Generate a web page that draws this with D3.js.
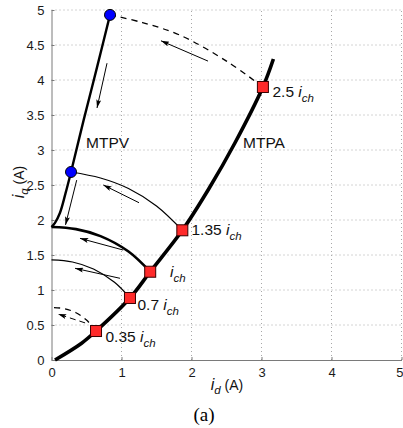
<!DOCTYPE html>
<html><head><meta charset="utf-8">
<script src="https://cdnjs.cloudflare.com/ajax/libs/d3/7.8.5/d3.min.js"></script>
<style>
html,body{margin:0;padding:0;background:#fff;}
svg{display:block;font-family:"Liberation Sans",Arial,sans-serif;}
</style></head>
<body>
<svg id="chart" width="403" height="428"></svg>
<script>
// ---- data ----
const xTicks = [0, 1, 2, 3, 4, 5];
const yTicks = [0, 0.5, 1, 1.5, 2, 2.5, 3, 3.5, 4, 4.5, 5];
const yTickLabels = ["0", "0.5", "1", "1.5", "2", "2.5", "3", "3.5", "4", "4.5", "5"];

// MTPA trajectory
const mtpaId = [0.05, 0.43, 0.636, 1.121, 1.41, 1.869, 2.25, 2.62, 3.02, 3.17];
const mtpaIq = [0.0, 0.24, 0.414, 0.886, 1.261, 1.853, 2.45, 3.1, 3.9, 4.3];

// MTPV trajectory
const mtpvId = [0.836, 0.65, 0.46, 0.279, 0.2, 0.12, 0.05, 0.0];
const mtpvIq = [4.93, 4.18, 3.43, 2.686, 2.38, 2.1, 1.96, 1.9];

// constant-current arcs
const arc035Id = [0.636, 0.5, 0.35, 0.18, 0.0];
const arc035Iq = [0.414, 0.57, 0.675, 0.735, 0.75];
const arc07Id = [1.121, 0.9, 0.6, 0.3, 0.0];
const arc07Iq = [0.886, 1.11, 1.30, 1.40, 1.43];
const arcIchId = [1.41, 1.1, 0.7, 0.35, 0.0];
const arcIchIq = [1.261, 1.55, 1.77, 1.87, 1.9];
const arc135Id = [1.869, 1.5, 1.1, 0.7, 0.279];
const arc135Iq = [1.853, 2.2, 2.45, 2.6, 2.686];
const arc25Id = [3.02, 2.5, 1.836, 1.3, 0.836];
const arc25Iq = [3.9, 4.27, 4.64, 4.82, 4.93];

// operating points
const squareId = [0.636, 1.121, 1.41, 1.869, 3.02];
const squareIq = [0.414, 0.886, 1.261, 1.853, 3.9];
const squareFactor = ["0.35 ", "0.7 ", "", "1.35 ", "2.5 "];
const circleId = [0.836, 0.279];
const circleIq = [4.93, 2.686];

// direction arrows (from -> to)
const arrowFromId = [2.236, 0.793, 0.36, 1.25, 1.024, 0.979, 0.48];
const arrowFromIq = [4.27, 4.24, 2.57, 2.247, 1.571, 1.167, 0.53];
const arrowToId = [1.564, 0.65, 0.2, 0.74, 0.407, 0.336, 0.093];
const arrowToIq = [4.56, 3.6, 1.93, 2.5, 1.738, 1.31, 0.657];
const arrowDashed = [false, false, false, false, false, false, true];

// ---- drawing ----
const svg = d3.select("#chart");
const x = d3.scaleLinear().domain([0, 5]).range([51.5, 401.5]);
const y = d3.scaleLinear().domain([0, 5]).range([360, 10]);

// grid
const grid = svg.append("g");
grid.selectAll(".gx").data(xTicks.slice(1)).enter().append("line")
  .attr("x1", d => x(d)).attr("x2", d => x(d)).attr("y1", y(0)).attr("y2", y(5))
  .attr("stroke", "#a8a8a8").attr("stroke-width", 1).attr("stroke-dasharray", "1,3");
grid.selectAll(".gy").data(yTicks.slice(1)).enter().append("line")
  .attr("x1", x(0)).attr("x2", x(5)).attr("y1", d => y(d)).attr("y2", d => y(d))
  .attr("stroke", "#a8a8a8").attr("stroke-width", 1).attr("stroke-dasharray", "1,3");

// axes
const xAxis = d3.axisBottom(x).tickValues(xTicks).tickFormat(d3.format("d")).tickSizeInner(-3).tickSizeOuter(0).tickPadding(8);
const yAxis = d3.axisLeft(y).tickValues(yTicks).tickFormat((d, i) => yTickLabels[i]).tickSizeInner(-3).tickSizeOuter(0).tickPadding(7);
const gx = svg.append("g").attr("transform", `translate(0,${y(0)})`).call(xAxis);
const gy = svg.append("g").attr("transform", `translate(${x(0)},0)`).call(yAxis);
[gx, gy].forEach(g => {
  g.select(".domain").attr("stroke", "#7a7a7a").attr("stroke-width", 1);
  g.selectAll(".tick line").attr("stroke", "#7a7a7a");
  g.selectAll(".tick text").attr("fill", "#1a1a1a").style("font-size", "13px")
    .style("font-family", "'Liberation Sans',Arial,sans-serif");
});
// keep the last x tick label inside the picture
gx.selectAll(".tick text").filter(d => d === xTicks[xTicks.length - 1]).attr("text-anchor", "end").attr("x", 1.5);

// markers
const defs = svg.append("defs");
defs.append("marker").attr("id", "ah").attr("viewBox", "0 0 10 6")
  .attr("refX", 10).attr("refY", 3).attr("markerWidth", 9).attr("markerHeight", 5)
  .attr("markerUnits", "userSpaceOnUse").attr("orient", "auto")
  .append("path").attr("d", "M0,0 L10,3 L0,6 L2,3 Z").attr("fill", "#000");

const line = d3.line().x(d => x(d[0])).y(d => y(d[1])).curve(d3.curveCatmullRom.alpha(0.5));
const zip = (a, b) => a.map((v, i) => [v, b[i]]);

const curves = [
  {id: arc25Id, iq: arc25Iq, w: 1.3, dash: "6,5"},
  {id: arc135Id, iq: arc135Iq, w: 1.2, dash: null},
  {id: arcIchId, iq: arcIchIq, w: 2.6, dash: null},
  {id: arc07Id, iq: arc07Iq, w: 1.2, dash: null},
  {id: arc035Id, iq: arc035Iq, w: 1.3, dash: "6,5"},
  {id: mtpvId, iq: mtpvIq, w: 2.4, dash: null},
  {id: mtpaId, iq: mtpaIq, w: 3.6, dash: null}
];
svg.append("g").selectAll("path").data(curves).enter().append("path")
  .attr("d", c => line(zip(c.id, c.iq)))
  .attr("fill", "none").attr("stroke", "#000")
  .attr("stroke-width", c => c.w)
  .attr("stroke-dasharray", c => c.dash);

// arrows
svg.append("g").selectAll("line").data(arrowFromId.map((d, i) => i)).enter().append("line")
  .attr("x1", i => x(arrowFromId[i])).attr("y1", i => y(arrowFromIq[i]))
  .attr("x2", i => x(arrowToId[i])).attr("y2", i => y(arrowToIq[i]))
  .attr("stroke", "#000").attr("stroke-width", 1)
  .attr("stroke-dasharray", i => arrowDashed[i] ? "6,4" : null)
  .attr("marker-end", "url(#ah)");

// operating points
svg.append("g").selectAll("rect").data(squareId.map((d, i) => i)).enter().append("rect")
  .attr("x", i => x(squareId[i]) - 5.5).attr("y", i => y(squareIq[i]) - 5.5)
  .attr("width", 11).attr("height", 11)
  .attr("fill", "#ff2a2a").attr("stroke", "#3a0000").attr("stroke-width", 1);
svg.append("g").selectAll("circle").data(circleId.map((d, i) => i)).enter().append("circle")
  .attr("cx", i => x(circleId[i])).attr("cy", i => y(circleIq[i])).attr("r", 5.5)
  .attr("fill", "#0000ff").attr("stroke", "#000").attr("stroke-width", 1);

// square labels
const labelPos = [[105.5, 341.5], [137.5, 309.5], [170, 277], [191.5, 235], [272.5, 96.5]];
const lab = svg.append("g").style("font-size", "15.5px").attr("fill", "#111");
squareFactor.forEach((f, i) => {
  const t = lab.append("text").attr("x", labelPos[i][0]).attr("y", labelPos[i][1]);
  if (f) t.append("tspan").text(f);
  t.append("tspan").style("font-style", "italic").text("i");
  t.append("tspan").style("font-style", "italic").style("font-size", "11.5px").attr("dy", 5).text("ch");
});

// curve names
svg.append("text").attr("x", 86).attr("y", 148).style("font-size", "15.5px").attr("fill", "#111").text("MTPV");
svg.append("text").attr("x", 243).attr("y", 148).style("font-size", "15.5px").attr("fill", "#111").text("MTPA");

// axis labels
const xl = svg.append("text").attr("x", 227).attr("y", 390).attr("text-anchor", "middle").style("font-size", "14px").attr("fill", "#111");
xl.append("tspan").style("font-style", "italic").style("font-size", "16px").text("i");
xl.append("tspan").style("font-style", "italic").style("font-size", "11.5px").attr("dy", 4).text("d");
xl.append("tspan").attr("dy", -4).text(" (A)");

const yl = svg.append("text").attr("transform", "translate(24,182) rotate(-90)").attr("text-anchor", "middle").style("font-size", "14px").attr("fill", "#111");
yl.append("tspan").style("font-style", "italic").style("font-size", "16px").text("i");
yl.append("tspan").style("font-style", "italic").style("font-size", "11.5px").attr("dy", 4).text("q");
yl.append("tspan").attr("dy", -4).text(" (A)");

// caption
svg.append("text").attr("x", 204).attr("y", 421).attr("text-anchor", "middle")
  .style("font-family", "'Liberation Serif','Times New Roman',serif").style("font-size", "19px").attr("fill", "#000").text("(a)");
</script>
</body></html>
